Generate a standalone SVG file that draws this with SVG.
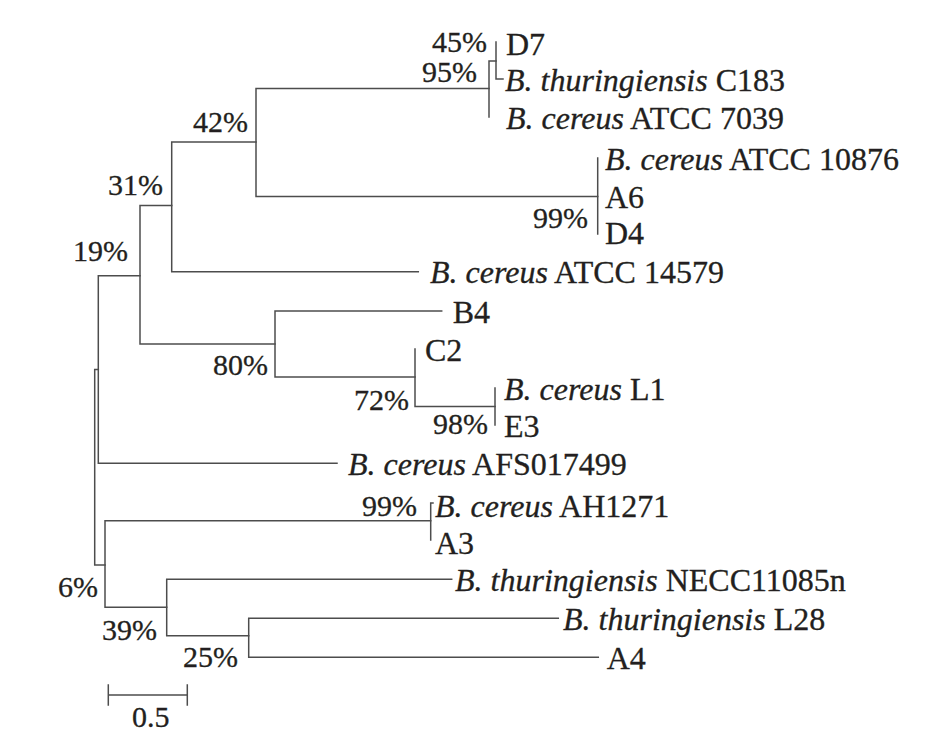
<svg xmlns="http://www.w3.org/2000/svg" width="945" height="756" viewBox="0 0 945 756">
<style>
.t{font-family:"Liberation Serif","Times New Roman",serif;font-size:32px;fill:#231f20;stroke:#231f20;stroke-width:0.3}
.p{font-size:30px}
.i{font-style:italic}
.b{text-anchor:end}
.c{text-anchor:middle}
.e{fill:none;stroke:#4d4d4d;stroke-width:1.5;stroke-linecap:square}
</style>
<rect width="945" height="756" fill="#fff"/>
<g id="connectors" class="e">
<path d="M496,42 V79 H503"/>
<path d="M496,61 H489 V117"/>
<path d="M489,88.5 H256 V196.5 H597.7"/>
<path d="M597.7,158 V234"/>
<path d="M256,142 H171.7 V271.7 H418.3"/>
<path d="M171.7,205.5 H140 V344 H275"/>
<path d="M441.7,311 H275 V377 H415"/>
<path d="M415,349 V406.5 H495"/>
<path d="M495,388 V425"/>
<path d="M140,275.7 H98.3 V463.3 H337"/>
<path d="M98.3,369.5 H94.7 V565 H105"/>
<path d="M430.7,520.7 H105 V607.3 H166.7"/>
<path d="M433,503 H430.7 V540"/>
<path d="M451.7,579.3 H166.7 V635.7 H248.7"/>
<path d="M558.3,618.3 H248.7 V657.3 H598.3"/>
</g>
<g id="scale-bar">
<path class="e" d="M108.3,695 H187.3 M108.3,685 V705 M187.3,685 V705"/>
<text class="t p c" x="150.7" y="727">0.5</text>
</g>
<g id="leaf-D7"><text class="t" x="506" y="55">D7</text></g>
<g id="leaf-C183"><text class="t" x="505" y="91"><tspan class="i">B. thuringiensis</tspan> C183</text></g>
<g id="leaf-ATCC7039"><text class="t" x="506" y="129"><tspan class="i">B. cereus</tspan> ATCC 7039</text></g>
<g id="leaf-ATCC10876"><text class="t" x="605" y="170"><tspan class="i">B. cereus</tspan> ATCC 10876</text></g>
<g id="leaf-A6"><text class="t" x="605" y="208">A6</text></g>
<g id="leaf-D4"><text class="t" x="605" y="244">D4</text></g>
<g id="leaf-ATCC14579"><text class="t" x="430" y="283"><tspan class="i">B. cereus</tspan> ATCC 14579</text></g>
<g id="leaf-B4"><text class="t" x="452.7" y="323">B4</text></g>
<g id="leaf-C2"><text class="t" x="425" y="361">C2</text></g>
<g id="leaf-L1"><text class="t" x="504" y="400"><tspan class="i">B. cereus</tspan> L1</text></g>
<g id="leaf-E3"><text class="t" x="504" y="437">E3</text></g>
<g id="leaf-AFS017499"><text class="t" x="348" y="475"><tspan class="i">B. cereus</tspan> AFS017499</text></g>
<g id="leaf-AH1271"><text class="t" x="435" y="517"><tspan class="i">B. cereus</tspan> AH1271</text></g>
<g id="leaf-A3"><text class="t" x="435" y="554">A3</text></g>
<g id="leaf-NECC11085n"><text class="t" x="455" y="591"><tspan class="i">B. thuringiensis</tspan> NECC11085n</text></g>
<g id="leaf-L28"><text class="t" x="563" y="630"><tspan class="i">B. thuringiensis</tspan> L28</text></g>
<g id="leaf-A4"><text class="t" x="606.7" y="669">A4</text></g>
<g id="node-45"><text class="t p b" x="487" y="52">45%</text></g>
<g id="node-95"><text class="t p b" x="477" y="82">95%</text></g>
<g id="node-42"><text class="t p b" x="248" y="132">42%</text></g>
<g id="node-31"><text class="t p b" x="163" y="195">31%</text></g>
<g id="node-19"><text class="t p b" x="128" y="261">19%</text></g>
<g id="node-99a"><text class="t p b" x="588" y="228">99%</text></g>
<g id="node-80"><text class="t p b" x="268" y="375">80%</text></g>
<g id="node-72"><text class="t p b" x="409" y="410">72%</text></g>
<g id="node-98"><text class="t p b" x="488" y="434">98%</text></g>
<g id="node-99b"><text class="t p b" x="417" y="516">99%</text></g>
<g id="node-6"><text class="t p b" x="98" y="597">6%</text></g>
<g id="node-39"><text class="t p b" x="157" y="640">39%</text></g>
<g id="node-25"><text class="t p b" x="238" y="667">25%</text></g>
</svg>
